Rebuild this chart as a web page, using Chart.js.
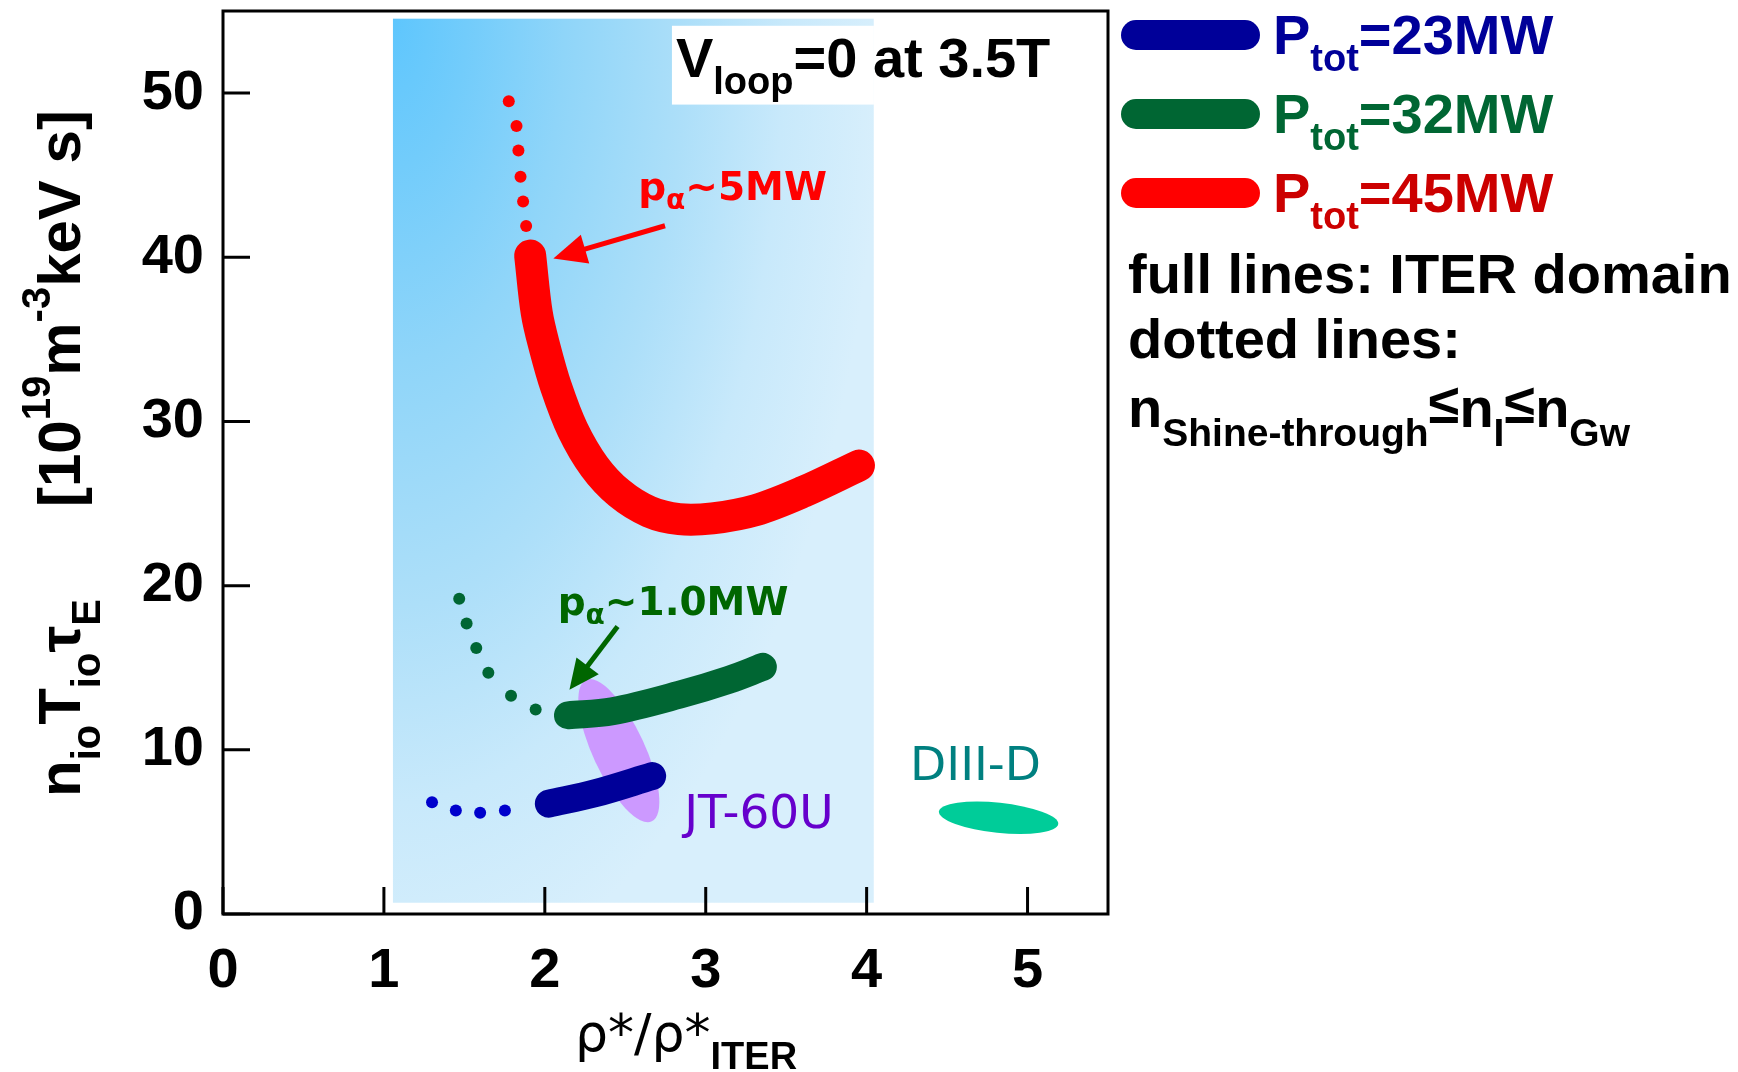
<!DOCTYPE html>
<html><head><meta charset="utf-8">
<script src="https://cdn.jsdelivr.net/npm/chart.js@4.4.0/dist/chart.umd.min.js"></script>
<style>html,body{margin:0;padding:0;background:#fff;}#wrap{width:1738px;height:1072px;}</style>
</head><body><div id="wrap"><canvas id="c" width="1738" height="1072"></canvas></div>
<script>
// ---------- data ----------
const xTicks = [0, 1, 2, 3, 4, 5];
const yTicks = [0, 10, 20, 30, 40, 50];
const xRange = [0, 5.5];
const yRange = [0, 55];

const red45Dotted   = [[1.776,49.5],[1.824,48.0],[1.836,46.5],[1.849,44.9],[1.865,43.4],[1.884,41.9]];
const red45Full     = [[1.909,40.1],[1.950,36.6],[1.998,34.55],[2.070,32.1],[2.173,29.5],[2.308,27.25],[2.463,25.63],[2.649,24.5],[2.835,24.05],[3.042,24.1],[3.311,24.6],[3.610,25.73],[3.952,27.31]];
const green32Dotted = [[1.468,19.2],[1.514,17.7],[1.574,16.2],[1.649,14.7],[1.790,13.3],[1.943,12.45]];
const green32Full   = [[2.144,12.1],[2.420,12.35],[2.835,13.35],[3.145,14.27],[3.355,15.05]];
const blue23Dotted  = [[1.299,6.8],[1.447,6.3],[1.598,6.17],[1.752,6.3]];
const blue23Full    = [[2.025,6.72],[2.318,7.37],[2.667,8.4]];

const iterDomainX = [1.055, 4.045];
const iterDomainY = [0.69, 54.55];
const jt60uCenter = [2.46, 9.95];
const diiidCenter = [4.82, 5.86];

const seriesNames = ['P_tot=23MW', 'P_tot=32MW', 'P_tot=45MW'];
const seriesPowers = ['23MW', '32MW', '45MW'];

// ---------- helpers ----------
const pts = a => a.map(p => ({x: p[0], y: p[1]}));
const BOLD = 'bold 56px "Liberation Sans", Arial, sans-serif';
const SUB = 'bold 38px "Liberation Sans", Arial, sans-serif';
const SUB2 = 'bold 39px "Liberation Sans", Arial, sans-serif';
const TICKFONT = {family: '"Liberation Sans", Arial, sans-serif', size: 56, weight: 'bold'};

function rich(ctx, x, y, segs) {
  let cx = x;
  for (const s of segs) {
    ctx.font = s.f; ctx.fillStyle = s.c || '#000';
    ctx.fillText(s.t, cx, y + (s.dy || 0));
    cx += ctx.measureText(s.t).width;
  }
  return cx;
}
function arrow(ctx, x1, y1, x2, y2, color, lw, hl, hw) {
  const ang = Math.atan2(y2 - y1, x2 - x1);
  const bx = x2 - hl * Math.cos(ang), by = y2 - hl * Math.sin(ang);
  ctx.save();
  ctx.strokeStyle = color; ctx.fillStyle = color; ctx.lineWidth = lw;
  ctx.beginPath(); ctx.moveTo(x1, y1); ctx.lineTo(bx + 2*Math.cos(ang), by + 2*Math.sin(ang)); ctx.stroke();
  ctx.beginPath();
  ctx.moveTo(x2, y2);
  ctx.lineTo(bx + hw/2 * Math.sin(ang), by - hw/2 * Math.cos(ang));
  ctx.lineTo(bx - hw/2 * Math.sin(ang), by + hw/2 * Math.cos(ang));
  ctx.closePath(); ctx.fill();
  ctx.restore();
}

const decor = {
  id: 'decor',
  beforeDatasetsDraw(chart) {
    const {ctx, scales: {x, y}} = chart;
    // ITER domain gradient
    const L = x.getPixelForValue(iterDomainX[0]), R = x.getPixelForValue(iterDomainX[1]);
    const T = y.getPixelForValue(iterDomainY[1]), B = y.getPixelForValue(iterDomainY[0]);
    const k = 2.0;
    ctx.save();
    ctx.beginPath(); ctx.rect(L, T, R - L, B - T); ctx.clip();
    ctx.translate(L, T); ctx.scale(1, k);
    const g = ctx.createRadialGradient(0, 0, 0, 0, 0, 490);
    g.addColorStop(0, '#5ec6fd');
    g.addColorStop(0.15, '#72ccfb');
    g.addColorStop(0.35, '#8fd5f9');
    g.addColorStop(0.6, '#addff9');
    g.addColorStop(0.8, '#c8e9fb');
    g.addColorStop(1, '#d8effc');
    ctx.fillStyle = g; ctx.fillRect(0, 0, R - L, (B - T) / k + 2);
    ctx.restore();
    // V_loop white box
    ctx.fillStyle = '#fff';
    const bx = x.getPixelForValue(2.79), by = y.getPixelForValue(54.1);
    ctx.fillRect(bx, by, R - bx, y.getPixelForValue(49.3) - by);
    // ellipses
    ctx.save();
    ctx.fillStyle = '#cc99ff';
    ctx.beginPath();
    ctx.ellipse(x.getPixelForValue(jt60uCenter[0]), y.getPixelForValue(jt60uCenter[1]), 78, 26, 65 * Math.PI / 180, 0, Math.PI * 2);
    ctx.fill();
    ctx.fillStyle = '#00cc99';
    ctx.beginPath();
    ctx.ellipse(x.getPixelForValue(diiidCenter[0]), y.getPixelForValue(diiidCenter[1]), 60, 15, 6 * Math.PI / 180, 0, Math.PI * 2);
    ctx.fill();
    ctx.restore();
  },
  afterDatasetsDraw(chart) {
    const {ctx, chartArea: a, scales: {x, y}} = chart;
    ctx.save();
    // frame + inward ticks
    ctx.strokeStyle = '#000'; ctx.lineWidth = 3;
    ctx.strokeRect(a.left, a.top, a.right - a.left, a.bottom - a.top);
    ctx.beginPath();
    xTicks.forEach(v => { const px = x.getPixelForValue(v); ctx.moveTo(px, a.bottom); ctx.lineTo(px, a.bottom - 27); });
    yTicks.forEach(v => { const py = y.getPixelForValue(v); ctx.moveTo(a.left, py); ctx.lineTo(a.left + 27, py); });
    ctx.stroke();

    ctx.textBaseline = 'alphabetic'; ctx.textAlign = 'left';
    const P = (vx, vy) => [x.getPixelForValue(vx), y.getPixelForValue(vy)];

    // V_loop text
    let [tx, ty] = P(2.815, 50.97);
    rich(ctx, tx, ty, [{t:'V', f:BOLD}, {t:'loop', f:SUB, dy:17}, {t:'=0 at 3.5T', f:BOLD}]);

    // annotations
    const DB = 'bold 39px "DejaVu Sans", Verdana, sans-serif';
    const DBs = 'bold 28px "DejaVu Sans", Verdana, sans-serif';
    [tx, ty] = P(2.58, 43.5);
    rich(ctx, tx, ty, [{t:'p', f:DB, c:'#ff0000'}, {t:'α', f:DBs, c:'#ff0000', dy:9}, {t:'~5MW', f:DB, c:'#ff0000'}]);
    let s = P(2.747, 41.92), e = P(2.053, 39.93);
    arrow(ctx, s[0], s[1], e[0], e[1], '#ff0000', 5, 33, 30);
    [tx, ty] = P(2.08, 18.2);
    rich(ctx, tx, ty, [{t:'p', f:DB, c:'#006600'}, {t:'α', f:DBs, c:'#006600', dy:9}, {t:'~1.0MW', f:DB, c:'#006600'}]);
    s = P(2.452, 17.51); e = P(2.153, 13.66);
    arrow(ctx, s[0], s[1], e[0], e[1], '#006600', 5, 30, 28);

    const DR = '47px "DejaVu Sans", Verdana, sans-serif';
    [tx, ty] = P(2.866, 5.26);
    rich(ctx, tx, ty, [{t:'JT-60U', f:DR, c:'#6600cc'}]);
    [tx, ty] = P(4.27, 8.18);
    rich(ctx, tx, ty, [{t:'DIII-D', f:DR, c:'#008080'}]);

    // legend
    const legend = [
      {y: 35, line: '#000099', text: '#000099'},
      {y: 114, line: '#006633', text: '#006633'},
      {y: 193, line: '#ff0000', text: '#cc0000'}
    ];
    legend.forEach((L, i) => {
      ctx.strokeStyle = L.line; ctx.lineWidth = 30; ctx.lineCap = 'round';
      ctx.beginPath(); ctx.moveTo(1136, L.y); ctx.lineTo(1245, L.y); ctx.stroke();
      rich(ctx, 1273, L.y + 18.5, [{t:'P', f:BOLD, c:L.text}, {t:'tot', f:SUB, c:L.text, dy:17}, {t:'=' + seriesPowers[i], f:BOLD, c:L.text}]);
    });
    rich(ctx, 1128, 293, [{t:'full lines: ITER domain', f:BOLD}]);
    rich(ctx, 1128, 358, [{t:'dotted lines:', f:BOLD}]);
    rich(ctx, 1128, 427, [{t:'n', f:BOLD}, {t:'Shine-through', f:SUB2, dy:19}, {t:'≤', f:BOLD, dy:-4}, {t:'n', f:BOLD}, {t:'I', f:SUB2, dy:19}, {t:'≤', f:BOLD, dy:-4}, {t:'n', f:BOLD}, {t:'Gw', f:SUB2, dy:19}]);

    // axis titles
    rich(ctx, 575, 1051, [{t:'ρ*/ρ*', f:'52px "DejaVu Sans", Verdana, sans-serif'}, {t:'ITER', f:'bold 38px "Liberation Sans", Arial, sans-serif', dy:18}]);
    const F60 = 'bold 60px "Liberation Sans", Arial, sans-serif';
    const F40 = 'bold 40px "Liberation Sans", Arial, sans-serif';
    ctx.save(); ctx.translate(80, 797); ctx.rotate(-Math.PI / 2);
    rich(ctx, 0, 0, [{t:'n', f:F60}, {t:'io', f:F40, dy:20}, {t:'T', f:F60}, {t:'io', f:F40, dy:20}, {t:'τ', f:F60}, {t:'E', f:F40, dy:20}]);
    rich(ctx, 290, 0, [{t:'[10', f:F60}, {t:'19', f:F40, dy:-30}, {t:'m', f:F60}, {t:'-3', f:F40, dy:-30}, {t:'keV s]', f:F60}]);
    ctx.restore();
    ctx.restore();
  }
};

const solid = (data, color, w) => ({data: pts(data), showLine: true, borderColor: color, borderWidth: w, borderCapStyle: 'round', borderJoinStyle: 'round', tension: 0.35, pointRadius: 0, fill: false});
const dotted = (data, color) => ({data: pts(data), showLine: false, pointRadius: 6, pointBackgroundColor: color, pointBorderWidth: 0, pointBorderColor: color});

new Chart(document.getElementById('c'), {
  type: 'scatter',
  data: {
    datasets: [
      Object.assign(solid(red45Full, '#ff0000', 32), {label: seriesNames[2]}),
      Object.assign(dotted(red45Dotted, '#ff0000'), {label: seriesNames[2] + ' dotted'}),
      Object.assign(solid(green32Full, '#006633', 28), {label: seriesNames[1]}),
      Object.assign(dotted(green32Dotted, '#006633'), {label: seriesNames[1] + ' dotted'}),
      Object.assign(solid(blue23Full, '#000099', 28), {label: seriesNames[0]}),
      Object.assign(dotted(blue23Dotted, '#0000cc'), {label: seriesNames[0] + ' dotted'})
    ]
  },
  options: {
    responsive: false, animation: false, devicePixelRatio: 1,
    layout: {padding: {left: 0, right: 630, top: 11, bottom: 0}},
    plugins: {legend: {display: false}, tooltip: {enabled: false}},
    scales: {
      x: {
        type: 'linear', min: xRange[0], max: xRange[1],
        afterBuildTicks: s => { s.ticks = xTicks.map(v => ({value: v})); },
        afterFit: s => { s.height = 158; s.paddingLeft = 0; s.paddingRight = 0; },
        ticks: {font: TICKFONT, color: '#000', padding: 24, maxRotation: 0, autoSkip: false, includeBounds: false},
        grid: {display: false, drawTicks: false}, border: {display: false}
      },
      y: {
        type: 'linear', min: yRange[0], max: yRange[1],
        afterBuildTicks: s => { s.ticks = yTicks.map(v => ({value: v})); },
        afterFit: s => { s.width = 223; s.paddingTop = 0; s.paddingBottom = 0; },
        ticks: {font: TICKFONT, color: '#000', padding: 19, autoSkip: false, includeBounds: false},
        grid: {display: false, drawTicks: false}, border: {display: false}
      }
    }
  },
  plugins: [decor]
});
</script></body></html>
